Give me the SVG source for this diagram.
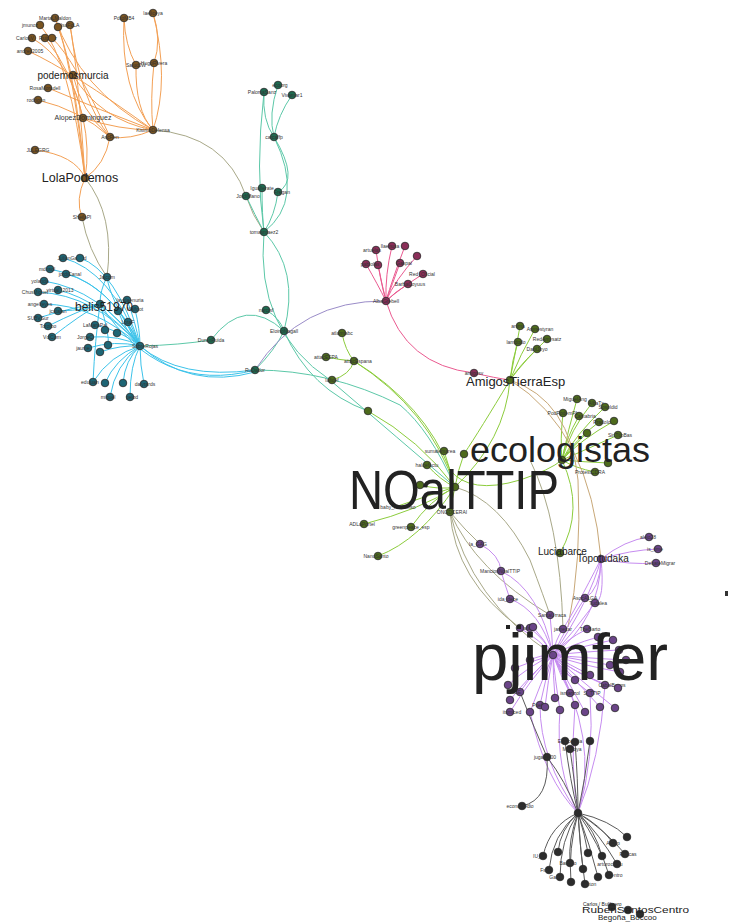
<svg xmlns="http://www.w3.org/2000/svg" width="729" height="922" viewBox="0 0 729 922">
<style>
text{font-family:"Liberation Sans",Arial,sans-serif;fill:#222}
.s{font-size:5px;text-anchor:middle;fill:#333}
.m{font-size:7px;text-anchor:middle;fill:#333}
circle{stroke:#2a2a2a;stroke-width:0.8;r:3.8px}
.or circle{fill:#7a5420}.bl circle{fill:#1d6575}.te circle{fill:#1e6a50}.gr circle{fill:#4d6a1c}.pk circle{fill:#8a2e58}.pu circle{fill:#6a4488}.bk circle{fill:#2c2c2c}
path{fill:none;stroke-width:1}
.eo{stroke:#f3a055}.eb{stroke:#3cc3ea}.et{stroke:#5cc8a8}.eg{stroke:#8ccc3c}.ep{stroke:#ea5a90}.eu{stroke:#c68cf0}.ek{stroke:#5a5a5a}.ey{stroke:#a8a888}.ev{stroke:#9a8cc8}.en{stroke:#c8a878}
</style>
<rect width="729" height="922" fill="#fff"/>
<g id="connectors">
<g class="eo">
<path d="M55,18 Q72,60 85,178"/><path d="M40,25 Q70,60 85,178"/><path d="M58,27 Q75,70 85,178"/><path d="M70,25 Q78,70 85,178"/>
<path d="M32,38 Q70,60 83,118"/><path d="M45,38 Q72,70 83,118"/><path d="M52,38 Q75,60 110,137"/><path d="M28,51 Q70,70 153,130"/>
<path d="M55,18 Q80,90 153,130"/><path d="M70,25 Q80,100 110,137"/><path d="M73,75 Q100,120 153,130"/><path d="M73,75 Q80,110 110,137"/>
<path d="M48,88 Q100,110 153,130"/><path d="M38,100 Q80,110 110,137"/><path d="M83,118 Q90,150 85,178"/><path d="M83,118 Q120,130 153,130"/>
<path d="M110,137 Q105,165 85,178"/><path d="M110,137 Q130,140 153,130"/><path d="M35,150 Q75,155 85,178"/><path d="M85,178 Q75,200 82,217"/>
<path d="M124,18 Q125,45 136,65"/><path d="M136,65 Q135,110 153,130"/><path d="M153,13 Q162,40 154,63"/><path d="M154,63 Q150,100 153,130"/>
<path d="M124,18 Q120,90 153,130"/><path d="M153,13 Q170,80 153,130"/>
</g>
<path class="ey" d="M153,130 Q225,135 246,196 Q252,215 264,232"/>
<path class="ey" d="M85,178 Q115,215 107,277"/>
<path class="ey" d="M82,217 Q88,250 107,277"/>
<g class="eb">
<path d="M63,258 Q110,270 140,346"/><path d="M80,258 Q115,270 140,346"/><path d="M50,269 Q110,280 140,346"/><path d="M66,274 Q110,285 140,346"/>
<path d="M44,281 Q100,290 140,346"/><path d="M38,292 Q95,295 140,346"/><path d="M58,290 Q100,300 140,346"/><path d="M44,304 Q95,305 140,346"/>
<path d="M58,311 Q90,310 100,304"/><path d="M38,318 Q80,305 100,304"/><path d="M48,326 Q80,310 100,304"/><path d="M52,337 Q80,315 100,304"/>
<path d="M107,277 Q110,300 140,346"/><path d="M107,277 Q100,290 100,304"/><path d="M127,300 Q135,320 140,346"/><path d="M135,309 Q140,330 140,346"/>
<path d="M118,311 Q125,330 140,346"/><path d="M128,322 Q130,335 140,346"/><path d="M95,325 Q120,330 140,346"/><path d="M90,337 Q120,335 140,346"/>
<path d="M88,348 Q115,340 140,346"/><path d="M100,352 Q120,345 140,346"/><path d="M100,304 Q120,320 140,346"/><path d="M100,304 Q110,335 108,345"/>
<path d="M93,382 Q110,355 140,346"/><path d="M105,383 Q115,360 140,346"/><path d="M123,383 Q125,360 140,346"/><path d="M144,384 Q140,365 140,346"/>
<path d="M110,397 Q115,365 140,346"/><path d="M130,397 Q130,365 140,346"/><path d="M100,304 Q95,340 93,382"/>
<path d="M140,346 Q180,380 255,370"/><path d="M140,346 Q190,390 255,372"/><path d="M100,304 Q160,395 255,370"/>
</g>
<g class="et">
<path d="M264,92 Q262,120 274,137"/><path d="M278,85 Q268,115 274,137"/><path d="M292,95 Q278,115 274,137"/><path d="M264,92 Q255,170 264,232"/>
<path d="M274,137 Q300,180 278,192"/><path d="M274,137 Q305,200 264,232"/><path d="M262,188 Q262,215 264,232"/><path d="M278,192 Q275,215 264,232"/>
<path d="M246,196 Q255,215 264,232"/><path d="M264,232 Q300,270 284,331"/><path d="M264,232 Q255,330 330,380 Q400,440 455,487"/>
<path d="M266,310 Q280,318 284,331"/><path d="M211,340 Q245,295 284,331"/><path d="M211,340 Q180,345 140,346"/><path d="M284,331 Q275,350 255,370"/>
<path d="M284,331 Q310,390 368,411"/><path d="M255,370 Q330,370 400,405 Q430,430 455,487"/>
</g>
<path class="ev" d="M255,370 Q300,300 386,301"/>
<g class="ep">
<path d="M376,250 Q380,280 386,301"/><path d="M392,246 Q385,275 386,301"/><path d="M405,246 Q392,280 386,301"/><path d="M378,265 Q382,285 386,301"/>
<path d="M366,264 Q378,285 386,301"/><path d="M400,263 Q392,285 386,301"/><path d="M417,256 Q395,280 386,301"/><path d="M423,274 Q398,290 386,301"/>
<path d="M408,284 Q395,292 386,301"/><path d="M386,301 Q405,365 474,373"/><path d="M474,373 Q495,378 510,380"/>
</g>
<g class="eg">
<path d="M342,333 Q345,350 354,361"/><path d="M326,357 Q340,360 354,361"/><path d="M332,380 Q350,375 354,361"/><path d="M354,361 Q430,410 455,487"/>
<path d="M368,411 Q420,440 455,487"/><path d="M444,451 Q450,470 455,487"/><path d="M464,454 Q458,470 455,487"/><path d="M427,465 Q440,480 455,487"/>
<path d="M420,485 Q440,490 455,487"/><path d="M455,487 Q452,500 450,512"/><path d="M364,524 Q420,510 455,487"/><path d="M411,527 Q430,500 455,487"/>
<path d="M378,556 Q420,540 455,487"/><path d="M395,507 Q430,495 455,487"/><path d="M510,380 Q505,440 455,487"/>
<path d="M520,326 Q515,355 510,380"/><path d="M535,329 Q520,355 510,380"/><path d="M518,342 Q512,360 510,380"/><path d="M547,339 Q525,360 510,380"/><path d="M537,349 Q520,365 510,380"/>
<path d="M577,399 Q568,430 562,460"/><path d="M592,403 Q570,430 562,460"/><path d="M605,407 Q575,435 562,460"/><path d="M563,413 Q560,440 562,460"/>
<path d="M579,416 Q565,440 562,460"/><path d="M599,422 Q575,440 562,460"/><path d="M614,421 Q580,440 562,460"/><path d="M587,433 Q570,450 562,460"/>
<path d="M618,435 Q585,450 562,460"/><path d="M608,463 Q585,462 562,460"/><path d="M595,472 Q575,468 562,460"/><path d="M562,460 Q585,510 560,553"/>
<path d="M510,380 Q480,430 464,454"/>
</g>
<path class="eg" stroke-width="4" d="M354,361 Q425,405 450,470 Q470,495 520,480 Q550,470 562,460"/>
<path class="en" d="M510,380 Q570,400 578,480 Q582,560 568,627"/>
<path class="en" d="M510,380 Q590,430 601,559"/>
<path class="ey" d="M450,512 Q470,600 553,655"/>
<path class="ey" d="M450,512 Q475,570 550,615"/>
<path class="ey" d="M450,512 Q455,580 520,628"/>
<path class="ey" d="M450,512 Q465,530 480,544"/>
<path class="ey" d="M455,487 Q500,500 530,560 Q545,600 550,615"/>
<path class="ey" d="M530,460 Q560,520 563,629"/>
<g class="eu">
<path d="M601,559 Q625,540 649,537"/><path d="M601,559 Q630,550 658,549"/><path d="M601,559 Q630,565 656,563"/><path d="M601,559 Q590,600 553,655"/>
<path d="M601,559 Q575,610 563,629"/><path d="M601,559 Q600,590 585,598"/><path d="M601,559 Q605,600 595,603"/><path d="M601,559 Q600,620 553,655"/>
<path d="M480,544 Q500,555 501,571"/><path d="M501,571 Q505,585 510,599"/><path d="M510,599 Q540,610 553,655"/><path d="M501,571 Q540,590 553,655"/>
<path d="M550,615 Q552,635 553,655"/><path d="M530,628 Q545,640 553,655"/><path d="M520,628 Q540,640 553,655"/><path d="M563,629 Q555,640 553,655"/>
<path d="M587,629 Q565,640 553,655"/><path d="M598,637 Q570,645 553,655"/><path d="M613,640 Q575,648 553,655"/><path d="M619,650 Q580,652 553,655"/>
<path d="M626,660 Q585,658 553,655"/><path d="M610,665 Q580,660 553,655"/><path d="M620,672 Q580,665 553,655"/><path d="M590,675 Q570,665 553,655"/>
<path d="M575,680 Q560,670 553,655"/><path d="M605,685 Q570,670 553,655"/><path d="M618,688 Q575,675 553,655"/><path d="M590,693 Q565,675 553,655"/>
<path d="M570,693 Q560,675 553,655"/><path d="M555,698 Q553,675 553,655"/><path d="M540,705 Q545,680 553,655"/><path d="M520,692 Q535,670 553,655"/>
<path d="M510,700 Q530,675 553,655"/><path d="M510,712 Q530,680 553,655"/><path d="M530,712 Q540,685 553,655"/><path d="M545,707 Q548,680 553,655"/>
<path d="M560,710 Q555,680 553,655"/><path d="M575,705 Q565,680 553,655"/><path d="M585,712 Q570,685 553,655"/><path d="M600,707 Q575,680 553,655"/>
<path d="M615,708 Q580,680 553,655"/><path d="M530,660 Q540,655 553,655"/><path d="M515,668 Q535,660 553,655"/><path d="M508,685 Q530,665 553,655"/>
<path d="M585,598 Q570,620 553,655"/><path d="M595,603 Q575,630 553,655"/><path d="M533,627 Q545,640 553,655"/>
<path d="M540,705 Q540,760 578,813"/><path d="M560,710 Q555,770 578,813"/><path d="M575,705 Q570,770 578,813"/><path d="M590,693 Q595,760 578,813"/>
<path d="M605,685 Q600,760 578,813"/><path d="M530,712 Q545,780 578,813"/><path d="M553,655 Q600,740 578,813"/>
</g>
<g class="ek">
<path d="M565,741 Q570,780 578,813"/><path d="M575,742 Q578,780 578,813"/><path d="M590,741 Q585,780 578,813"/><path d="M570,749 Q575,785 578,813"/>
<path d="M547,757 Q550,800 522,806"/><path d="M547,757 Q565,780 578,813"/><path d="M520,692 Q535,730 547,757"/>
<path d="M578,813 Q610,820 627,837"/><path d="M578,813 Q600,825 613,843"/><path d="M578,813 Q605,830 625,854"/><path d="M578,813 Q600,835 617,864"/>
<path d="M578,813 Q600,845 609,875"/><path d="M578,813 Q590,845 598,877"/><path d="M578,813 Q580,850 585,884"/><path d="M578,813 Q568,850 571,882"/>
<path d="M578,813 Q560,840 560,877"/><path d="M578,813 Q552,835 549,870"/><path d="M578,813 Q568,840 570,863"/><path d="M578,813 Q580,845 583,869"/>
<path d="M578,813 Q585,835 588,853"/><path d="M578,813 Q595,830 602,856"/><path d="M578,813 Q560,830 558,852"/><path d="M578,813 Q550,825 543,856"/>
</g>
</g>
<g class="or">
<g id="o1"><circle cx="55" cy="18" r="3.8"/><text class="s" x="55" y="20">MartaLMaldon</text></g>
<g id="o2"><circle cx="40" cy="25" r="3.8"/><text class="s" x="30" y="27">jmunoz</text></g>
<g id="o3"><circle cx="58" cy="27" r="3.8"/></g>
<g id="o4"><circle cx="70" cy="25" r="3.8"/><text class="s" x="70" y="27">IsaFoLA</text></g>
<g id="o5"><circle cx="32" cy="38" r="3.8"/><text class="s" x="25" y="40">CarlosV</text></g>
<g id="o6"><circle cx="45" cy="38" r="3.8"/><text class="s" x="48" y="40">RuizPor</text></g>
<g id="o7"><circle cx="52" cy="38" r="3.8"/></g>
<g id="o8"><circle cx="28" cy="51" r="3.8"/><text class="s" x="30" y="53">andres2005</text></g>
<g id="o9"><circle cx="73" cy="75" r="3.8"/><text x="73" y="79" font-size="10" text-anchor="middle">podemosmurcia</text></g>
<g id="o10"><circle cx="48" cy="88" r="3.8"/><text class="s" x="45" y="90">RosaMoradell</text></g>
<g id="o11"><circle cx="38" cy="100" r="3.8"/><text class="s" x="36" y="102">rodrigon</text></g>
<g id="o12"><circle cx="83" cy="118" r="3.8"/><text class="m" x="83" y="120">AlopezDominguez</text></g>
<g id="o13"><circle cx="110" cy="137" r="3.8"/><text class="s" x="110" y="139">AscRen</text></g>
<g id="o14"><circle cx="153" cy="130" r="3.8"/><text class="s" x="153" y="132">KisimoDefensa</text></g>
<g id="o15"><circle cx="124" cy="18" r="3.8"/><text class="s" x="124" y="20">PdtoMB4</text></g>
<g id="o16"><circle cx="153" cy="13" r="3.8"/><text class="s" x="153" y="15">laeliceya</text></g>
<g id="o17"><circle cx="136" cy="65" r="3.8"/><text class="s" x="136" y="67">SaludJW</text></g>
<g id="o18"><circle cx="154" cy="63" r="3.8"/><text class="s" x="154" y="65">HugoRivera</text></g>
<g id="o19"><circle cx="35" cy="150" r="3.8"/><text class="s" x="38" y="152">JLLEGRG</text></g>
<g id="o20"><circle cx="85" cy="178" r="3.8"/><text x="80" y="182" font-size="12.5" text-anchor="middle">LolaPodemos</text></g>
<g id="o21"><circle cx="82" cy="217" r="3.8"/><text class="s" x="82" y="219">SheilaPl</text></g>
</g>
<g class="bl">
<g id="b1"><circle cx="100" cy="304" r="3.8"/></g>
<g id="b2"><circle cx="140" cy="346" r="3.8"/><text class="s" x="145" y="348">SobreRojas</text></g>
<g id="b3"><circle cx="63" cy="258" r="3.8"/><text class="s" x="72" y="260">JulianGallard</text></g>
<g id="b4"><circle cx="80" cy="258" r="3.8"/></g>
<g id="b5"><circle cx="50" cy="269" r="3.8"/><text class="s" x="47" y="271">mdnsol</text></g>
<g id="b6"><circle cx="66" cy="274" r="3.8"/><text class="s" x="70" y="276">jordiCanal</text></g>
<g id="b7"><circle cx="44" cy="281" r="3.8"/><text class="s" x="40" y="283">yolanda</text></g>
<g id="b8"><circle cx="38" cy="292" r="3.8"/><text class="s" x="35" y="294">ChusMiguel</text></g>
<g id="b9"><circle cx="58" cy="290" r="3.8"/><text class="s" x="60" y="292">virtual_2013</text></g>
<g id="b10"><circle cx="44" cy="304" r="3.8"/><text class="s" x="40" y="306">angelreyes</text></g>
<g id="b11"><circle cx="58" cy="311" r="3.8"/><text class="s" x="58" y="313">jcatalan</text></g>
<g id="b12"><circle cx="38" cy="318" r="3.8"/><text class="s" x="38" y="320">SUBVSur</text></g>
<g id="b13"><circle cx="48" cy="326" r="3.8"/><text class="s" x="48" y="328">Toroibo</text></g>
<g id="b14"><circle cx="52" cy="337" r="3.8"/><text class="s" x="52" y="339">VdiCom</text></g>
<g id="b15"><circle cx="107" cy="277" r="3.8"/><text class="s" x="107" y="279">Jaicom</text></g>
<g id="b16"><circle cx="127" cy="300" r="3.8"/><text class="s" x="130" y="302">lavidaenuria</text></g>
<g id="b17"><circle cx="135" cy="309" r="3.8"/><text class="s" x="135" y="311">Malfoot</text></g>
<g id="b18"><circle cx="118" cy="311" r="3.8"/></g>
<g id="b19"><circle cx="128" cy="322" r="3.8"/><text class="s" x="128" y="324">LotaF</text></g>
<g id="b20"><circle cx="95" cy="325" r="3.8"/><text class="s" x="95" y="327">LaMaraPal</text></g>
<g id="b21"><circle cx="105" cy="330" r="3.8"/></g>
<g id="b22"><circle cx="90" cy="337" r="3.8"/><text class="s" x="85" y="339">JorgeC</text></g>
<g id="b23"><circle cx="88" cy="348" r="3.8"/><text class="s" x="83" y="350">jaume</text></g>
<g id="b24"><circle cx="100" cy="352" r="3.8"/></g>
<g id="b25"><circle cx="108" cy="345" r="3.8"/></g>
<g id="b26"><circle cx="117" cy="333" r="3.8"/></g>
<g id="b27"><circle cx="93" cy="382" r="3.8"/><text class="s" x="90" y="384">edujuan</text></g>
<g id="b28"><circle cx="105" cy="383" r="3.8"/></g>
<g id="b29"><circle cx="123" cy="383" r="3.8"/></g>
<g id="b30"><circle cx="144" cy="384" r="3.8"/><text class="s" x="145" y="386">dalyrards</text></g>
<g id="b31"><circle cx="110" cy="397" r="3.8"/><text class="s" x="108" y="399">miguel</text></g>
<g id="b32"><circle cx="130" cy="397" r="3.8"/><text class="s" x="132" y="399">peiod</text></g>
<text x="104" y="311" font-size="12" text-anchor="middle">belis51970</text>
</g>
<g class="te">
<g id="t1"><circle cx="264" cy="92" r="3.8"/><text class="s" x="262" y="94">PalomaSanz</text></g>
<g id="t2"><circle cx="278" cy="85" r="3.8"/><text class="s" x="280" y="87">ecoorg</text></g>
<g id="t3"><circle cx="292" cy="95" r="3.8"/><text class="s" x="292" y="97">Vivamar1</text></g>
<g id="t4"><circle cx="274" cy="137" r="3.8"/><text class="s" x="274" y="139">carcaffp</text></g>
<g id="t5"><circle cx="262" cy="188" r="3.8"/><text class="s" x="262" y="190">Iguallerate</text></g>
<g id="t6"><circle cx="278" cy="192" r="3.8"/><text class="s" x="282" y="194">Fregan</text></g>
<g id="t7"><circle cx="246" cy="196" r="3.8"/><text class="s" x="248" y="198">JordiMano</text></g>
<g id="t8"><circle cx="264" cy="232" r="3.8"/><text class="s" x="264" y="234">tomasmaez2</text></g>
<g id="t9"><circle cx="266" cy="310" r="3.8"/><text class="s" x="266" y="312">narcisf</text></g>
<g id="t10"><circle cx="284" cy="331" r="3.8"/><text class="s" x="284" y="333">EloinoNagall</text></g>
<g id="t11"><circle cx="255" cy="370" r="3.8"/><text class="s" x="255" y="372">RuDador</text></g>
<g id="t12"><circle cx="211" cy="340" r="3.8"/><text class="s" x="211" y="342">DuranPuida</text></g>
</g>
<g class="pk">
<g id="p1"><circle cx="386" cy="301" r="3.8"/><text class="s" x="386" y="303">AlbaGrebell</text></g>
<g id="p2"><circle cx="376" cy="250" r="3.8"/><text class="s" x="372" y="252">artuelas</text></g>
<g id="p3"><circle cx="392" cy="246" r="3.8"/><text class="s" x="390" y="248">llaenusa</text></g>
<g id="p4"><circle cx="405" cy="246" r="3.8"/></g>
<g id="p5"><circle cx="378" cy="265" r="3.8"/></g>
<g id="p6"><circle cx="366" cy="264" r="3.8"/><text class="s" x="370" y="266">pablolas</text></g>
<g id="p7"><circle cx="400" cy="263" r="3.8"/><text class="s" x="404" y="265">Gaspal</text></g>
<g id="p8"><circle cx="417" cy="256" r="3.8"/></g>
<g id="p9"><circle cx="423" cy="274" r="3.8"/><text class="s" x="422" y="276">Red_Oficial</text></g>
<g id="p10"><circle cx="408" cy="284" r="3.8"/><text class="s" x="410" y="286">BarbaCoyuus</text></g>
<g id="p11"><circle cx="474" cy="373" r="3.8"/><text class="s" x="474" y="375">amigosv</text></g>
</g>
<g class="gr">
<g id="g1"><circle cx="342" cy="333" r="3.8"/><text class="s" x="342" y="335">atlamtabc</text></g>
<g id="g2"><circle cx="326" cy="357" r="3.8"/><text class="s" x="326" y="359">attacESPA</text></g>
<g id="g3"><circle cx="354" cy="361" r="3.8"/><text class="s" x="358" y="363">attacEspana</text></g>
<g id="g4"><circle cx="332" cy="380" r="3.8"/><text class="s" x="332" y="382">lafidef</text></g>
<g id="g5"><circle cx="368" cy="411" r="3.8"/></g>
<g id="g6"><circle cx="444" cy="451" r="3.8"/><text class="s" x="440" y="453">sumatemarea</text></g>
<g id="g7"><circle cx="464" cy="454" r="3.8"/></g>
<g id="g8"><circle cx="427" cy="465" r="3.8"/><text class="s" x="427" y="467">halcefactu</text></g>
<g id="g9"><circle cx="420" cy="485" r="3.8"/></g>
<g id="g10"><circle cx="455" cy="487" r="3.8"/></g>
<g id="g11"><circle cx="450" cy="512" r="3.8"/><text class="s" x="452" y="514">ONGDCERAI</text></g>
<g id="g12"><circle cx="364" cy="524" r="3.8"/><text class="s" x="362" y="526">ADLaPortel</text></g>
<g id="g13"><circle cx="411" cy="527" r="3.8"/><text class="s" x="411" y="529">greenpeace_esp</text></g>
<g id="g14"><circle cx="378" cy="556" r="3.8"/><text class="s" x="376" y="558">NanoSanto</text></g>
<g id="g15"><text class="s" x="398" y="509">baby_manuelso</text></g>
<g id="g16"><circle cx="510" cy="380" r="3.8"/></g>
<g id="g17"><circle cx="520" cy="326" r="3.8"/><text class="s" x="518" y="328">anima</text></g>
<g id="g18"><circle cx="535" cy="329" r="3.8"/><text class="s" x="540" y="331">Amnestyran</text></g>
<g id="g19"><circle cx="518" cy="342" r="3.8"/><text class="s" x="516" y="344">lamdodo</text></g>
<g id="g20"><circle cx="547" cy="339" r="3.8"/><text class="s" x="547" y="341">RedAmysatz</text></g>
<g id="g21"><circle cx="537" cy="349" r="3.8"/><text class="s" x="537" y="351">DaniJoyo</text></g>
<g id="g22"><circle cx="562" cy="460" r="3.8"/></g>
<g id="g23"><circle cx="577" cy="399" r="3.8"/><text class="s" x="575" y="401">MiguelAng</text></g>
<g id="g24"><circle cx="592" cy="403" r="3.8"/><text class="s" x="596" y="405">AlbaTx</text></g>
<g id="g25"><circle cx="605" cy="407" r="3.8"/><text class="s" x="608" y="409">Sosoldid</text></g>
<g id="g26"><circle cx="563" cy="413" r="3.8"/><text class="s" x="563" y="415">PodPodemPL</text></g>
<g id="g27"><circle cx="579" cy="416" r="3.8"/><text class="s" x="585" y="418">Cantabria</text></g>
<g id="g28"><circle cx="599" cy="422" r="3.8"/><text class="s" x="605" y="424">PradoloAd</text></g>
<g id="g29"><circle cx="614" cy="421" r="3.8"/></g>
<g id="g30"><circle cx="587" cy="433" r="3.8"/></g>
<g id="g31"><circle cx="618" cy="435" r="3.8"/><text class="s" x="620" y="437">SinTtipBas</text></g>
<g id="g32"><circle cx="608" cy="463" r="3.8"/></g>
<g id="g33"><circle cx="595" cy="472" r="3.8"/><text class="s" x="590" y="474">ProtestCDRA</text></g>
<g id="g34"><circle cx="560" cy="553" r="3.8"/></g>
</g>
<g class="pu">
<g id="u1"><circle cx="601" cy="559" r="3.8"/></g>
<g id="u2"><circle cx="649" cy="537" r="3.8"/><text class="s" x="648" y="539">alejo28</text></g>
<g id="u3"><circle cx="658" cy="549" r="3.8"/><text class="s" x="655" y="551">is_time</text></g>
<g id="u4"><circle cx="656" cy="563" r="3.8"/><text class="s" x="660" y="565">DebateMigrar</text></g>
<g id="u5"><circle cx="480" cy="544" r="3.8"/><text class="s" x="478" y="546">la_GAG</text></g>
<g id="u6"><circle cx="501" cy="571" r="3.8"/><text class="s" x="500" y="573">MancionNoalTTIP</text></g>
<g id="u7"><circle cx="510" cy="599" r="3.8"/><text class="s" x="508" y="601">ida_dece</text></g>
<g id="u8"><circle cx="585" cy="598" r="3.8"/><text class="s" x="585" y="600">AsocALGA</text></g>
<g id="u9"><circle cx="595" cy="603" r="3.8"/><text class="s" x="598" y="605">Tudalea</text></g>
<g id="u10"><circle cx="550" cy="615" r="3.8"/><text class="s" x="552" y="617">SantaUrraca</text></g>
<g id="u11"><circle cx="530" cy="628" r="3.8"/><text class="s" x="528" y="630">Rafade</text></g>
<g id="u12"><circle cx="520" cy="628" r="3.8"/></g>
<g id="u13"><circle cx="563" cy="629" r="3.8"/><text class="s" x="563" y="631">jamecar</text></g>
<g id="u14"><circle cx="587" cy="629" r="3.8"/><text class="s" x="590" y="631">TheBarto</text></g>
<g id="u15"><circle cx="598" cy="637" r="3.8"/></g>
<g id="u16"><circle cx="613" cy="640" r="3.8"/></g>
<g id="u17"><circle cx="619" cy="650" r="3.8"/></g>
<g id="u18"><circle cx="626" cy="660" r="3.8"/></g>
<g id="u19"><circle cx="610" cy="665" r="3.8"/></g>
<g id="u20"><circle cx="620" cy="672" r="3.8"/></g>
<g id="u21"><circle cx="590" cy="675" r="3.8"/></g>
<g id="u22"><circle cx="575" cy="680" r="3.8"/></g>
<g id="u23"><circle cx="605" cy="685" r="3.8"/><text class="s" x="612" y="687">CabalBonos</text></g>
<g id="u24"><circle cx="618" cy="688" r="3.8"/></g>
<g id="u25"><circle cx="590" cy="693" r="3.8"/><text class="s" x="592" y="695">S_TTIP</text></g>
<g id="u26"><circle cx="570" cy="693" r="3.8"/><text class="s" x="570" y="695">ismarizol</text></g>
<g id="u27"><circle cx="555" cy="698" r="3.8"/></g>
<g id="u28"><circle cx="540" cy="705" r="3.8"/><text class="s" x="540" y="707">Pueblo</text></g>
<g id="u29"><circle cx="520" cy="692" r="3.8"/><text class="s" x="515" y="694">LoBE</text></g>
<g id="u30"><circle cx="510" cy="700" r="3.8"/></g>
<g id="u31"><circle cx="510" cy="712" r="3.8"/><text class="s" x="512" y="714">itsmiced</text></g>
<g id="u32"><circle cx="530" cy="712" r="3.8"/></g>
<g id="u33"><circle cx="545" cy="707" r="3.8"/></g>
<g id="u34"><circle cx="560" cy="710" r="3.8"/></g>
<g id="u35"><circle cx="575" cy="705" r="3.8"/></g>
<g id="u36"><circle cx="585" cy="712" r="3.8"/></g>
<g id="u37"><circle cx="600" cy="707" r="3.8"/></g>
<g id="u38"><circle cx="615" cy="708" r="3.8"/></g>
<g id="u39"><circle cx="530" cy="660" r="3.8"/></g>
<g id="u40"><circle cx="515" cy="668" r="3.8"/></g>
<g id="u41"><circle cx="508" cy="685" r="3.8"/></g>
<g id="u42"><circle cx="553" cy="655" r="3.8"/></g>
<g id="u43"><circle cx="533" cy="627" r="3.8"/></g>
<rect x="506" y="625" width="4" height="4" fill="#222"/><rect x="517" y="625" width="4" height="4" fill="#222"/>
</g>
<g class="bk">
<g id="k1"><circle cx="578" cy="813" r="3.8"/></g>
<g id="k2"><circle cx="565" cy="741" r="3.8"/><text class="s" x="570" y="743">E_Licencia</text></g>
<g id="k3"><circle cx="575" cy="742" r="3.8"/></g>
<g id="k4"><circle cx="590" cy="741" r="3.8"/></g>
<g id="k5"><circle cx="570" cy="749" r="3.8"/><text class="s" x="572" y="751">Maritoya</text></g>
<g id="k6"><circle cx="547" cy="757" r="3.8"/><text class="s" x="545" y="759">jugar2000</text></g>
<g id="k7"><circle cx="522" cy="806" r="3.8"/><text class="s" x="520" y="808">economedio</text></g>
<g id="k8"><circle cx="627" cy="837" r="3.8"/></g>
<g id="k9"><circle cx="613" cy="843" r="3.8"/><text class="s" x="613" y="845">AlCup</text></g>
<g id="k10"><circle cx="625" cy="854" r="3.8"/><text class="s" x="628" y="856">Rancas</text></g>
<g id="k11"><circle cx="617" cy="864" r="3.8"/><text class="s" x="610" y="866">arturocentu</text></g>
<g id="k12"><circle cx="609" cy="875" r="3.8"/><text class="s" x="615" y="877">Centro</text></g>
<g id="k13"><circle cx="598" cy="877" r="3.8"/></g>
<g id="k14"><circle cx="585" cy="884" r="3.8"/><text class="s" x="590" y="886">anton</text></g>
<g id="k15"><circle cx="571" cy="882" r="3.8"/></g>
<g id="k16"><circle cx="560" cy="877" r="3.8"/><text class="s" x="556" y="879">Galea</text></g>
<g id="k17"><circle cx="549" cy="870" r="3.8"/><text class="s" x="545" y="872">Fsin</text></g>
<g id="k18"><circle cx="570" cy="863" r="3.8"/><text class="s" x="568" y="865">Bardino</text></g>
<g id="k19"><circle cx="583" cy="869" r="3.8"/></g>
<g id="k20"><circle cx="588" cy="853" r="3.8"/></g>
<g id="k21"><circle cx="602" cy="856" r="3.8"/></g>
<g id="k22"><circle cx="558" cy="852" r="3.8"/></g>
<g id="k23"><circle cx="543" cy="856" r="3.8"/><text class="s" x="537" y="858">IU_</text></g>
<g id="k24"><circle cx="612" cy="907" r="3.8"/></g>
<g id="k25"><circle cx="628" cy="910" r="3.8"/></g>
<g id="k26"><circle cx="640" cy="914" r="3.8"/></g>
</g>
<rect x="725" y="591" width="3" height="5" fill="#333"/>
<g id="labels">
<text x="466" y="386" font-size="13">AmigosTierraEsp</text>
<text x="349" y="509" font-size="56" textLength="210" lengthAdjust="spacingAndGlyphs">NOalTTIP</text>
<text x="470" y="462" font-size="35" textLength="180" lengthAdjust="spacingAndGlyphs">ecologistas</text>
<text x="472" y="680" font-size="66" textLength="196" lengthAdjust="spacingAndGlyphs">pjimfer</text>
<text x="538" y="555" font-size="10">Luciabarce</text>
<text x="577" y="562" font-size="10">Topotudaka</text>
<text x="583" y="906" font-size="5">Carlos / Bulibrero</text>
<text x="582" y="913" font-size="9" textLength="107" lengthAdjust="spacingAndGlyphs">RubenSantosCentro</text>
<text x="598" y="920" font-size="8">Begoña_Boccoo</text>
</g>
</svg>
